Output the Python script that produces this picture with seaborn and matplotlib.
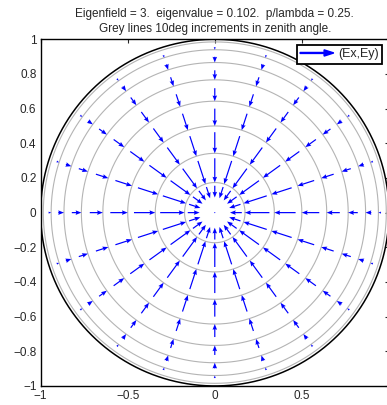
import matplotlib
matplotlib.use("Agg")
import matplotlib.pyplot as plt
import matplotlib.patches as mpatches
from matplotlib.legend_handler import HandlerPatch
import numpy as np
import pandas as pd
import seaborn as sns

# zenith angle (deg) of each ring of arrow tips, and arrow length there
tip_zenith_deg = [5, 10, 20, 30, 40, 50, 60, 70]
field_length = [0.068, 0.14, 0.122, 0.10, 0.075, 0.055, 0.033, 0.015]
# azimuth sampling of the field (deg)
azimuth_deg = np.arange(0, 360, 18)
# grey reference circles, 10deg steps in zenith angle
grey_zenith_deg = [10, 20, 30, 40, 50, 60, 70, 80]

x_ticks = [-1, -0.5, 0, 0.5, 1]
x_labels = ["\u22121", "\u22120.5", "0", "0.5", "1"]
y_ticks = [-1, -0.8, -0.6, -0.4, -0.2, 0, 0.2, 0.4, 0.6, 0.8, 1]
y_labels = ["\u22121", "\u22120.8", "\u22120.6", "\u22120.4", "\u22120.2", "0",
            "0.2", "0.4", "0.6", "0.8", "1"]

title = ("Eigenfield = 3.  eigenvalue = 0.102.  p/lambda = 0.25.\n"
         "Grey lines 10deg increments in zenith angle.")

sns.set_style("white")
plt.rcParams["font.family"] = ["Liberation Sans", "DejaVu Sans"]
plt.rcParams["font.size"] = 8.5

# field table: one row per arrow, tip on the ring
rows = []
for th, L in zip(tip_zenith_deg, field_length):
    r = np.sin(np.radians(th))
    for ph in azimuth_deg:
        p = np.radians(ph)
        rows.append({"x": r * np.cos(p), "y": r * np.sin(p),
                     "u": -L * np.cos(p), "v": -L * np.sin(p)})
rows.append({"x": 0.0, "y": 0.0, "u": 0.0, "v": 0.0})
field = pd.DataFrame(rows)

t = np.linspace(0, 2 * np.pi, 361)
circ = pd.DataFrame([
    {"ring": th, "x": np.sin(np.radians(th)) * np.cos(a), "y": np.sin(np.radians(th)) * np.sin(a)}
    for th in grey_zenith_deg for a in t
])

fig = plt.figure(figsize=(3.87, 4.05), dpi=100)
ax = fig.add_axes([0.105, 0.047, 0.9, 0.856])

sns.lineplot(data=circ, x="x", y="y", units="ring", estimator=None, sort=False,
             color="#b4b4b4", lw=0.8, ax=ax, legend=False)
ax.plot(np.cos(t), np.sin(t), color="black", lw=1.1)

ax.quiver(field["x"], field["y"], field["u"], field["v"], pivot="tip",
          angles="xy", scale_units="xy", scale=1, units="dots", width=1.2,
          headwidth=3.8, headlength=4.8, headaxislength=4.3, color="blue", zorder=3)


def _arrow_handle(legend, orig_handle, xdescent, ydescent, width, height, fontsize):
    return mpatches.FancyArrow(0, height / 2, width, 0, width=0.7, head_width=4.5,
                               head_length=7, length_includes_head=True, color="blue")


proxy = mpatches.FancyArrow(0, 0, 1, 0, color="blue")
leg = ax.legend([proxy], ["(Ex,Ey)"], handler_map={mpatches.FancyArrow: HandlerPatch(patch_func=_arrow_handle)},
                loc="upper right", bbox_to_anchor=(0.981, 0.984), borderaxespad=0,
                fancybox=False, framealpha=1, edgecolor="black", fontsize=9,
                handlelength=2.7, handletextpad=0.35, borderpad=0.28)
leg.get_frame().set_linewidth(1.3)

ax.set_xlim(-1, 1)
ax.set_ylim(-1, 1)
ax.set_xticks(x_ticks, x_labels)
ax.set_yticks(y_ticks, y_labels)
ax.set_xlabel("")
ax.set_ylabel("")
ax.tick_params(direction="in", length=3, width=0.8, top=True, right=True, labelsize=8.5, pad=3)
for s in ax.spines.values():
    s.set_color("black")
    s.set_linewidth(1.0)

ax.set_title(title, fontsize=8.5, linespacing=1.35, pad=5)

fig.savefig("out.png", dpi=100)
plt.close(fig)
